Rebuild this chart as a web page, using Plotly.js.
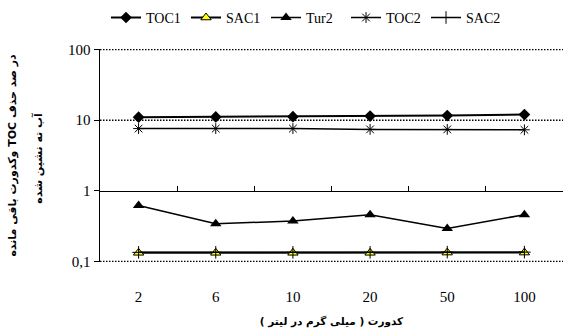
<!DOCTYPE html>
<html>
<head>
<meta charset="utf-8">
<script src="https://cdn.plot.ly/plotly-3.0.1.min.js"></script>
<style>
  html, body { margin: 0; padding: 0; background: #fff; }
  #chart { width: 563px; height: 334px; }
  /* Persian titles are laid out right-to-left */
  #chart text.ytitle, #chart text.xtitle, #chart .annotation-text {
    direction: rtl;
    unicode-bidi: embed;
  }
</style>
</head>
<body>
<div id="chart"></div>
<script>
// Turbidity levels (mg/L) on the category axis
var turbidity = ['2', '6', '10', '20', '50', '100'];

// Series values
var toc1 = [11.0, 11.1, 11.2, 11.4, 11.6, 12.0];
var sac1 = [0.133, 0.133, 0.133, 0.133, 0.134, 0.134];
var tur2 = [0.62, 0.343, 0.374, 0.46, 0.294, 0.46];
var toc2 = [7.6, 7.6, 7.6, 7.4, 7.4, 7.3];
var sac2 = [0.135, 0.135, 0.135, 0.135, 0.136, 0.136];

// Y tick labels (log scale)
var yTickVals = [0.1, 1, 10, 100];
var yTickText = ['0,1', '1', '10', '100'];

// Dotted horizontal grid levels (the level 1 carries the solid category line)
var gridLevels = [0.1, 10, 100];

// Boundaries between categories, used for the tick marks on the line at y = 1
var categoryBoundaries = [0.5, 1.5, 2.5, 3.5, 4.5];

var yTitle1 = 'در صد حذف TOC وکدورت باقی مانده';
var yTitle2 = 'آب ته نشین شده';
var xTitle = 'کدورت ( میلی گرم در لیتر )';

var serif = 'Liberation Serif';
var persian = 'DejaVu Sans';

var yRange = [-1.006, 2.006];
// paper position of y = 1 (log10 = 0) inside the value range
var lineAtOnePos = (0 - yRange[0]) / (yRange[1] - yRange[0]);

function series(name, y, marker, lineWidth) {
  return {
    type: 'scatter', mode: 'lines+markers', name: name,
    x: turbidity, y: y, xaxis: 'x', yaxis: 'y',
    line: { color: '#000', width: lineWidth },
    marker: marker
  };
}

var traces = [
  series('TOC1', toc1, { symbol: 'diamond', size: 9, color: '#000' }, 2),
  series('SAC1', sac1, { symbol: 'triangle-up', size: 9, color: '#ffff00', line: { color: '#000', width: 1 } }, 2),
  series('Tur2', tur2, { symbol: 'triangle-up', size: 10, color: '#000' }, 1.5),
  series('TOC2', toc2, { symbol: 'asterisk-open', size: 9, color: '#000', line: { color: '#000', width: 1 } }, 1.5),
  series('SAC2', sac2, { symbol: 'cross-thin-open', size: 9, color: '#000', line: { color: '#000', width: 1 } }, 1.5)
];

// invisible trace on the second x axis so that it gets drawn
traces.push({
  type: 'scatter', mode: 'markers', x: [0], y: [null],
  xaxis: 'x2', yaxis: 'y', showlegend: false, hoverinfo: 'skip',
  marker: { opacity: 0 }
});

var gridDash = '1.5px,1.5px';
var shapes = gridLevels.map(function (v) {
  return {
    type: 'line', layer: 'below', xref: 'paper', yref: 'y',
    x0: 0, x1: 1, y0: v, y1: v,
    line: { color: '#000', width: 1.5, dash: gridDash }
  };
});

var layout = {
  width: 563, height: 334,
  margin: { l: 100, r: 0, t: 49, b: 72 },
  paper_bgcolor: '#fff', plot_bgcolor: '#fff',
  font: { family: serif, color: '#000' },
  showlegend: true,
  legend: {
    orientation: 'h', x: 0.013, xanchor: 'left', y: 1.146, yanchor: 'middle',
    font: { family: serif, size: 14, color: '#000' },
    entrywidth: 35, entrywidthmode: 'pixels',
    bgcolor: 'rgba(0,0,0,0)'
  },
  xaxis: {
    type: 'category', range: [-0.5, 5.5],
    showline: false, showgrid: false, zeroline: false, ticks: '',
    tickfont: { family: serif, size: 15, color: '#000' },
    ticklabelstandoff: 24,
    title: { text: '<b>' + xTitle + '</b>', font: { family: persian, size: 10.5, color: '#000' }, standoff: 13 }
  },
  xaxis2: {
    type: 'linear', range: [-0.5, 5.5], overlaying: 'x', anchor: 'free', position: lineAtOnePos,
    side: 'bottom', showline: true, linecolor: '#000', linewidth: 1.2,
    showgrid: false, zeroline: false, showticklabels: false,
    tickmode: 'array', tickvals: categoryBoundaries, ticks: 'inside', ticklen: 5,
    tickcolor: '#000', tickwidth: 1.2
  },
  yaxis: {
    type: 'log', range: yRange,
    tickmode: 'array', tickvals: yTickVals, ticktext: yTickText,
    ticks: 'outside', ticklen: 5, tickcolor: '#000', tickwidth: 1,
    showline: true, linecolor: '#000', linewidth: 1.5,
    showgrid: false, zeroline: false,
    tickfont: { family: serif, size: 15, color: '#000' },
    title: { text: '<b>' + yTitle1 + '</b>', font: { family: persian, size: 11, color: '#000' }, standoff: 49 }
  },
  shapes: shapes,
  annotations: [{
    text: '<b>' + yTitle2 + '</b>', xref: 'paper', yref: 'paper', x: -62 / 463, y: 0.49,
    xanchor: 'center', yanchor: 'middle', textangle: -90, showarrow: false,
    font: { family: persian, size: 11, color: '#000' }
  }]
};

Plotly.newPlot('chart', traces, layout, { displayModeBar: false, staticPlot: true });
</script>
</body>
</html>
